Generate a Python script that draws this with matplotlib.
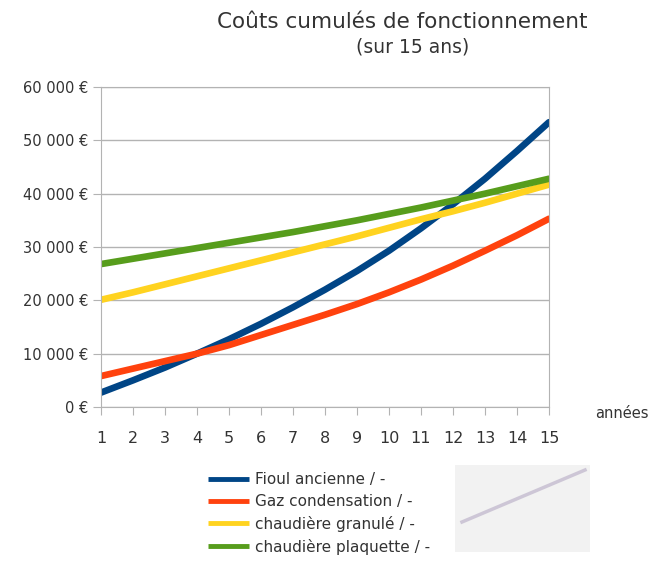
import matplotlib.pyplot as plt
from matplotlib.ticker import FuncFormatter
from matplotlib.patches import Rectangle
from matplotlib.lines import Line2D

years = list(range(1, 16))
fioul = [2700, 5000, 7400, 10000, 12700, 15600, 18700, 22000, 25500, 29300,
         33500, 38000, 42800, 48000, 53400]
gaz = [5800, 7200, 8600, 10000, 11600, 13500, 15400, 17300, 19300, 21500,
       23900, 26500, 29300, 32200, 35300]
granule = [20100, 21500, 23000, 24500, 26000, 27500, 29000, 30500, 32000, 33600,
           35200, 36700, 38300, 40000, 41700]
plaquette = [26800, 27800, 28800, 29800, 30800, 31800, 32800, 33900, 35000, 36200,
             37400, 38700, 40000, 41400, 42800]
labels = ["Fioul ancienne / -", "Gaz condensation / -",
          "chaudière granulé / -", "chaudière plaquette / -"]
colors = ["#004586", "#ff420e", "#ffd320", "#579d1c"]

W, H = 665, 569
fig = plt.figure(figsize=(W / 100, H / 100), dpi=100)
ax = fig.add_axes([101 / W, 1 - 407 / H, 448 / W, 320 / H])

for series, label, color in zip([fioul, gaz, granule, plaquette], labels, colors):
    ax.plot(years, series, color=color, lw=4.8, label=label, solid_capstyle="round")

ax.set_xlim(1, 15)
ax.set_ylim(0, 60000)
ax.set_xticks(years)
ax.set_yticks(range(0, 60001, 10000))
y_tick_fmt = lambda val, pos: "{0:,.0f} €".format(val).replace(",", " ")
ax.yaxis.set_major_formatter(FuncFormatter(y_tick_fmt))
ax.grid(axis="y", color="#b3b3b3", lw=1)
ax.set_axisbelow(True)
for s in ax.spines.values():
    s.set_color("#b3b3b3")
ax.tick_params(axis="both", color="#b3b3b3", length=6, labelcolor="#333333")
ax.tick_params(axis="x", labelsize=11.5, pad=11)
ax.tick_params(axis="y", labelsize=10.5, pad=3)

fig.text(402 / W, 1 - 22 / H, "Coûts cumulés de fonctionnement",
         ha="center", va="center", fontsize=15.5, color="#333333")
fig.text(413 / W, 1 - 47 / H, "(sur 15 ans)",
         ha="center", va="center", fontsize=13.5, color="#333333")
fig.text(595 / W, 1 - 413 / H, "années", ha="left", va="center",
         fontsize=10.5, color="#333333")

leg = fig.legend(loc="upper left", bbox_to_anchor=(208 / W, 1 - 472 / H),
                 frameon=False, handlelength=2.7, handletextpad=0.35,
                 labelspacing=0.45, fontsize=11, borderpad=0, borderaxespad=0,
                 labelcolor="#333333")
for hl in leg.get_lines():
    hl.set_linewidth(3.5)
    hl.set_solid_capstyle("butt")

# pale photo fragment at the bottom right of the screenshot
fig.patches.append(Rectangle((455 / W, 1 - 552 / H), 135 / W, 87 / H,
                             transform=fig.transFigure, facecolor="#f2f2f2",
                             edgecolor="none", zorder=0))
fig.lines.append(Line2D([462 / W, 585 / W], [1 - 522 / H, 1 - 470 / H],
                        transform=fig.transFigure, color="#c4bccf", lw=2.5, alpha=0.8))

fig.savefig("out.png", dpi=100)
